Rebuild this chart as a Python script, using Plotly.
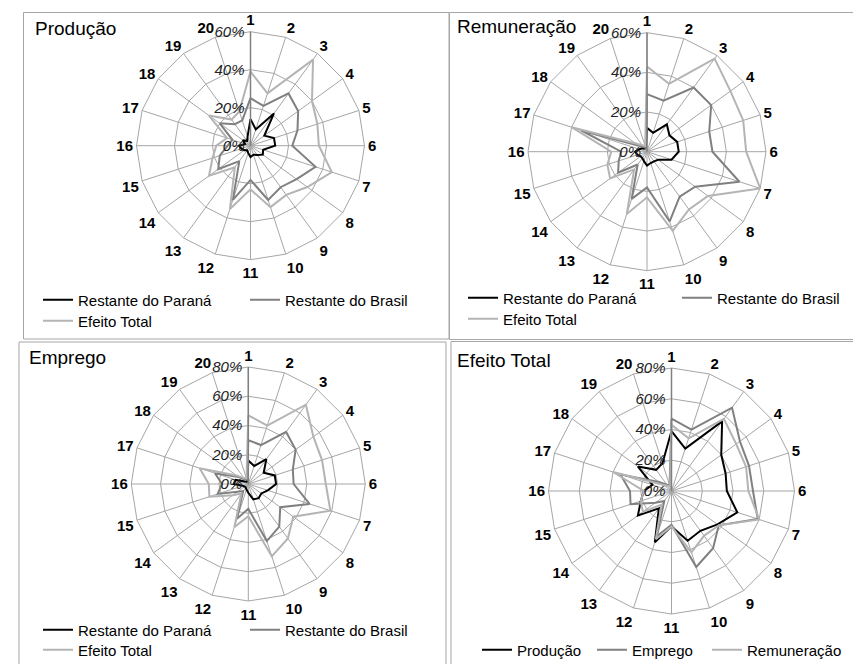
import plotly.graph_objects as go

categories = [str(i) for i in range(1, 21)]

# Produção
prod_parana = [14, 9, 21, 9, 13, 13, 7, 8, 6, 5, 6, 4, 3, 4, 5, 6, 3, 5, 3, 5]
prod_brasil = [25, 22, 34, 31, 26, 22, 36, 30, 27, 30, 18, 30, 10, 21, 17, 12, 10, 20, 14, 14]
prod_total = [39, 29, 56, 40, 37, 36, 45, 37, 32, 34, 23, 35, 14, 27, 21, 18, 13, 27, 17, 19]

# Remuneração
rem_parana = [12, 10, 17, 14, 16, 16, 13, 7, 6, 6, 7, 5, 4, 4, 5, 6, 4, 3, 2, 2]
rem_brasil = [29, 27, 40, 40, 33, 33, 49, 30, 28, 37, 18, 25, 8, 18, 15, 13, 35, 5, 3, 2]
rem_total = [43, 36, 58, 52, 51, 50, 60, 38, 36, 42, 23, 33, 11, 23, 21, 18, 40, 7, 4, 3]

# Emprego
emp_parana = [16, 13, 21, 13, 19, 19, 14, 11, 12, 11, 6, 4, 3, 3, 4, 10, 9, 3, 2, 2]
emp_brasil = [30, 28, 44, 40, 32, 31, 44, 27, 36, 41, 17, 25, 6, 9, 22, 18, 24, 8, 4, 3]
emp_total = [47, 42, 67, 55, 53, 53, 59, 38, 46, 52, 22, 31, 8, 13, 28, 27, 35, 10, 5, 4]

W, H = 853, 664
FONT = "Liberation Sans, Arial, sans-serif"
BLACK, DARK, LIGHT = "#000000", "#808080", "#b4b4b4"
GRID = "#a6a6a6"

# panel layout (centre x, centre y, radius, range max)
panels = [
    dict(cx=250.5, cy=145.7, R=114, rmax=60, title="Produção", tx=33, ty=29),
    dict(cx=647, cy=151.7, R=119, rmax=60, title="Remuneração", tx=455, ty=26),
    dict(cx=248.3, cy=484, R=117, rmax=80, title="Emprego", tx=27, ty=357),
    dict(cx=671.5, cy=491, R=123, rmax=80, title="Efeito Total", tx=455, ty=360),
]

# (name, values, colour, legend id, entry width)
series = [
    [("Restante do Paraná", prod_parana, BLACK, "legend", 162),
     ("Restante do Brasil", prod_brasil, DARK, "legend", None),
     ("Efeito Total", prod_total, LIGHT, "legend2", None)],
    [("Restante do Paraná", rem_parana, BLACK, "legend3", 169),
     ("Restante do Brasil", rem_brasil, DARK, "legend3", None),
     ("Efeito Total", rem_total, LIGHT, "legend4", None)],
    [("Restante do Paraná", emp_parana, BLACK, "legend5", 162),
     ("Restante do Brasil", emp_brasil, DARK, "legend5", None),
     ("Efeito Total", emp_total, LIGHT, "legend6", None)],
    [("Produção", prod_total, BLACK, "legend7", 70),
     ("Emprego", emp_total, DARK, "legend7", 70),
     ("Remuneração", rem_total, LIGHT, "legend7", None)],
]

fig = go.Figure()
layout = {}
for i, (p, sers) in enumerate(zip(panels, series)):
    key = "polar" if i == 0 else f"polar{i+1}"
    for name, vals, color, leg, ew in sers:
        kw = dict(legendwidth=ew) if ew else {}
        fig.add_trace(go.Scatterpolar(
            r=vals + vals[:1], theta=categories + categories[:1],
            mode="lines", name=name, line=dict(color=color, width=2),
            subplot=key, legend=leg, showlegend=True, **kw))
    x0 = (p["cx"] - p["R"]) / W
    x1 = (p["cx"] + p["R"]) / W
    y0 = 1 - (p["cy"] + p["R"]) / H
    y1 = 1 - (p["cy"] - p["R"]) / H
    layout[key] = dict(
        domain=dict(x=[x0, x1], y=[y0, y1]),
        gridshape="linear",
        bgcolor="rgba(0,0,0,0)",
        angularaxis=dict(
            type="category", categoryorder="array", categoryarray=categories,
            rotation=90, direction="clockwise",
            showline=True, linecolor=GRID, linewidth=1,
            gridcolor=GRID, gridwidth=1, ticks="",
            tickfont=dict(family=FONT, size=15, color="#000", weight="bold"),
        ),
        radialaxis=dict(
            range=[0, p["rmax"]], dtick=20, ticksuffix="%",
            angle=90, tickangle=90, side="counterclockwise",
            showline=True, linecolor=DARK, linewidth=1.5,
            gridcolor=GRID, gridwidth=1, ticks="",
            tickfont=dict(family=FONT, size=15, color="#222", style="italic"),
        ),
    )

# legends: (key, line-start x px, row centre y px)
legend_specs = [
    ("legend", 43, 300), ("legend2", 43, 321),
    ("legend3", 468, 298), ("legend4", 468, 319),
    ("legend5", 43, 630), ("legend6", 43, 650),
    ("legend7", 482, 650),
]
for key, lx, ly in legend_specs:
    layout[key] = dict(
        x=(lx - 5) / W, xanchor="left", y=1 - ly / H, yanchor="middle",
        orientation="h", bgcolor="rgba(0,0,0,0)", borderwidth=0,
        font=dict(family=FONT, size=15, color="#000"),
        itemclick=False, itemdoubleclick=False,
    )

boxes = [(23.5, 12.5, 449, 339), (449.5, 12.5, 860, 339.5),
         (19, 342, 446, 670), (451, 341.5, 860, 670)]
shapes = [dict(type="rect", xref="paper", yref="paper",
               x0=a / W, x1=c / W, y0=1 - d / H, y1=1 - b / H,
               line=dict(color=GRID, width=1), fillcolor="rgba(0,0,0,0)")
          for a, b, c, d in boxes]

annotations = [dict(text=p["title"], xref="paper", yref="paper",
                    x=p["tx"] / W, y=1 - p["ty"] / H, xanchor="left", yanchor="middle",
                    showarrow=False, font=dict(family=FONT, size=19, color="#000"))
               for p in panels]

fig.update_layout(width=W, height=H,
                  margin=dict(l=0, r=0, t=0, b=0, autoexpand=False),
                  paper_bgcolor="white", plot_bgcolor="white",
                  shapes=shapes, annotations=annotations, **layout)
fig.write_html("out.html", config={"displayModeBar": False},
               post_script="document.body.style.margin='0';document.body.style.overflow='hidden';")
